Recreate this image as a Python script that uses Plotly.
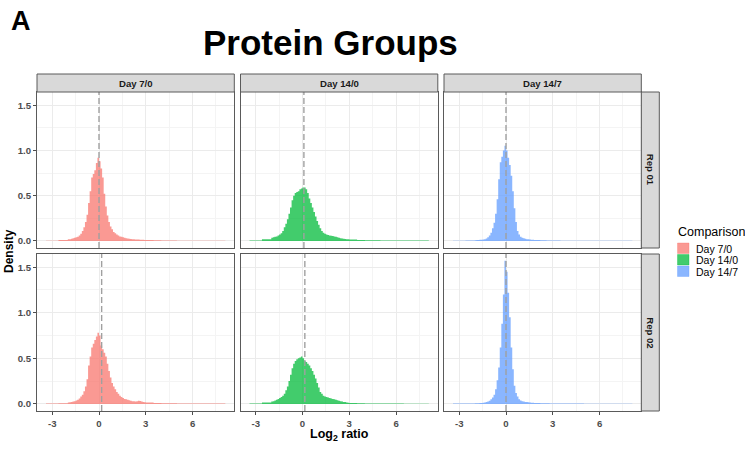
import plotly.graph_objects as go

# ---------------------------------------------------------------------------
# Histogram bins (log2 ratio): two coarse left-tail bins, a fine core grid
# of 0.1-wide bins from -2 to 3, and five coarse right-tail bins.
# ---------------------------------------------------------------------------
left_tail_edges = [-3.4, -2.6]
core_start, core_step, core_bins = -2.0, 0.1, 50
right_tail_edges = [3.5, 4.0, 5.0, 6.5, 8.1]

comparisons = ["Day 7/0", "Day 14/0", "Day 14/7"]
replicates = ["Rep 01", "Rep 02"]

# Density per bin: [2 left-tail] + [50 core] + [5 right-tail]
day7_0_rep01 = [0.003, 0.010,
    0.020, 0.020, 0.025, 0.030, 0.035, 0.040, 0.045, 0.060, 0.080, 0.110,
    0.150, 0.210, 0.290, 0.420, 0.550, 0.700, 0.740, 0.780, 0.860, 0.920,
    0.880, 0.800, 0.700, 0.520, 0.380, 0.280, 0.210, 0.160, 0.130, 0.100,
    0.085, 0.070, 0.060, 0.050, 0.045, 0.040, 0.035, 0.030, 0.028, 0.025,
    0.022, 0.020, 0.018, 0.017, 0.015, 0.015, 0.014, 0.013, 0.012, 0.011,
    0.010, 0.007, 0.005, 0.003, 0.002]
day14_0_rep01 = [0.005, 0.020,
    0.035, 0.040, 0.045, 0.050, 0.060, 0.070, 0.085, 0.110, 0.150, 0.190,
    0.240, 0.300, 0.370, 0.450, 0.500, 0.530, 0.540, 0.550, 0.570, 0.580,
    0.590, 0.590, 0.570, 0.530, 0.470, 0.420, 0.370, 0.320, 0.270, 0.220,
    0.180, 0.140, 0.110, 0.090, 0.080, 0.070, 0.065, 0.060, 0.058, 0.055,
    0.050, 0.045, 0.040, 0.035, 0.030, 0.028, 0.025, 0.022, 0.020, 0.018,
    0.015, 0.010, 0.008, 0.005, 0.004]
day14_7_rep01 = [0.003, 0.006,
    0.008, 0.010, 0.010, 0.012, 0.014, 0.017, 0.020, 0.028, 0.040, 0.060,
    0.090, 0.140, 0.200, 0.300, 0.460, 0.680, 0.870, 0.930, 1.000, 1.050,
    1.000, 0.920, 0.840, 0.720, 0.550, 0.360, 0.210, 0.110, 0.070, 0.045,
    0.035, 0.030, 0.025, 0.020, 0.018, 0.015, 0.013, 0.012, 0.011, 0.010,
    0.009, 0.009, 0.008, 0.008, 0.007, 0.007, 0.006, 0.006, 0.005, 0.005,
    0.004, 0.003, 0.003, 0.002, 0.002]
day7_0_rep02 = [0.003, 0.008,
    0.015, 0.018, 0.020, 0.025, 0.030, 0.038, 0.045, 0.060, 0.080, 0.100,
    0.140, 0.190, 0.270, 0.420, 0.520, 0.620, 0.660, 0.700, 0.740, 0.780,
    0.750, 0.640, 0.600, 0.560, 0.520, 0.440, 0.360, 0.290, 0.230, 0.190,
    0.160, 0.130, 0.110, 0.090, 0.075, 0.065, 0.055, 0.050, 0.045, 0.040,
    0.035, 0.030, 0.028, 0.026, 0.030, 0.035, 0.033, 0.025, 0.020, 0.018,
    0.014, 0.010, 0.007, 0.004, 0.003]
day14_0_rep02 = [0.004, 0.015,
    0.025, 0.030, 0.038, 0.045, 0.055, 0.065, 0.077, 0.090, 0.110, 0.150,
    0.190, 0.250, 0.320, 0.390, 0.440, 0.470, 0.490, 0.500, 0.510, 0.520,
    0.500, 0.470, 0.460, 0.440, 0.420, 0.390, 0.360, 0.320, 0.280, 0.230,
    0.180, 0.130, 0.110, 0.090, 0.080, 0.075, 0.070, 0.065, 0.060, 0.055,
    0.050, 0.045, 0.040, 0.035, 0.030, 0.025, 0.022, 0.020, 0.015, 0.012,
    0.010, 0.007, 0.005, 0.003, 0.002]
day14_7_rep02 = [0.003, 0.005,
    0.006, 0.007, 0.008, 0.009, 0.011, 0.013, 0.016, 0.020, 0.026, 0.035,
    0.050, 0.070, 0.100, 0.160, 0.260, 0.400, 0.620, 0.880, 1.200, 1.570,
    1.450, 1.220, 0.950, 0.620, 0.380, 0.200, 0.120, 0.080, 0.050, 0.038,
    0.030, 0.025, 0.022, 0.020, 0.018, 0.015, 0.013, 0.012, 0.011, 0.010,
    0.009, 0.009, 0.008, 0.008, 0.007, 0.007, 0.006, 0.006, 0.005, 0.005,
    0.004, 0.003, 0.003, 0.002, 0.002]

densities = [
    [day7_0_rep01, day14_0_rep01, day14_7_rep01],
    [day7_0_rep02, day14_0_rep02, day14_7_rep02],
]

# Median log2 ratio per panel (dashed reference line)
medians = [
    [0.00, 0.09, 0.00],
    [0.17, 0.15, 0.00],
]

x_ticks = [-3, 0, 3, 6]
x_tick_labels = ["-3", "0", "3", "6"]
y_ticks = [0.0, 0.5, 1.0, 1.5]
y_tick_labels = ["0.0", "0.5", "1.0", "1.5"]

# ---------------------------------------------------------------------------
# Styling
# ---------------------------------------------------------------------------
W, H = 745, 449
FONT = "Liberation Sans, Arial, Helvetica, sans-serif"
base_colors = ["248,118,109", "0,186,56", "97,156,255"]
FILL_ALPHA = 0.74

edges = (left_tail_edges
         + [round(core_start + core_step * i, 2) for i in range(core_bins + 1)]
         + right_tail_edges)

X_RANGE = [-3.975, 8.675]
Y_RANGE = [-0.078, 1.645]

# panel geometry in pixels
col_left = [37.0, 240.5, 444.0]
panel_w = 197.3
row_top = [92.0, 254.0]
row_bot = [248.0, 411.0]
strip_top_h = 18.0
strip_right_w = 18.0
BORDER = "#5a5a5a"


def fx(px):
    return px / W


def fy(py):
    return 1 - py / H


fig = go.Figure()
layout_axes = {}
shapes = []
annotations = []

for r in range(2):
    for c in range(3):
        idx = r * 3 + c + 1
        xa = "x" if idx == 1 else f"x{idx}"
        ya = "y" if idx == 1 else f"y{idx}"
        dens = densities[r][c]
        xs = edges[:]
        ys = dens + [dens[-1]]
        rgb = base_colors[c]
        fig.add_trace(go.Scatter(
            x=xs, y=ys, mode="lines", line_shape="hv",
            line=dict(color=f"rgba({rgb},{FILL_ALPHA})", width=0),
            fill="tozeroy", fillcolor=f"rgba({rgb},{FILL_ALPHA})",
            xaxis=xa, yaxis=ya, showlegend=False, hoverinfo="skip",
        ))

        x0 = col_left[c]
        x1 = x0 + panel_w
        y0, y1 = row_top[r], row_bot[r]
        show_x = (r == 1)
        show_y = (c == 0)
        axis_common = dict(
            showline=True, mirror=True, linecolor=BORDER, linewidth=1,
            showgrid=True, gridcolor="#ebebeb", gridwidth=1,
            zeroline=False, ticklen=3, tickwidth=1,
            tickcolor="#4d4d4d",
            tickfont=dict(family=FONT, size=9.6, color="#4d4d4d", weight="bold"),
        )
        layout_axes[f"xaxis{'' if idx == 1 else idx}"] = dict(
            axis_common,
            domain=[fx(x0), fx(x1)], anchor=ya, range=X_RANGE,
            tickvals=x_ticks, ticktext=x_tick_labels,
            showticklabels=show_x, ticks="outside" if show_x else "",
            minor=dict(showgrid=True, gridcolor="#f4f4f4", gridwidth=0.6,
                       tickvals=[-1.5, 1.5, 4.5, 7.5]),
        )
        layout_axes[f"yaxis{'' if idx == 1 else idx}"] = dict(
            axis_common,
            domain=[fy(y1), fy(y0)], anchor=xa, range=Y_RANGE,
            tickvals=y_ticks, ticktext=y_tick_labels,
            showticklabels=show_y, ticks="outside" if show_y else "",
            minor=dict(showgrid=True, gridcolor="#f4f4f4", gridwidth=0.6,
                       tickvals=[0.25, 0.75, 1.25]),
        )

        # dashed median line
        shapes.append(dict(
            type="line", xref=xa, yref=f"{ya} domain",
            x0=medians[r][c], x1=medians[r][c], y0=0, y1=1,
            line=dict(color="#a0a0a0", width=1.4, dash="6px,3px"),
            layer="above",
        ))

# top strips
for c, label in enumerate(comparisons):
    x0 = col_left[c]
    x1 = x0 + panel_w
    shapes.append(dict(
        type="rect", xref="paper", yref="paper",
        x0=fx(x0), x1=fx(x1), y0=fy(row_top[0]), y1=fy(row_top[0] - strip_top_h),
        fillcolor="#d9d9d9", line=dict(color=BORDER, width=1),
    ))
    annotations.append(dict(
        text=f"<b>{label}</b>", xref="paper", yref="paper",
        x=fx((x0 + x1) / 2), y=fy(row_top[0] - strip_top_h / 2),
        xanchor="center", yanchor="middle", showarrow=False,
        font=dict(family=FONT, size=9.6, color="#1a1a1a"),
    ))

# right strips
sx0 = col_left[2] + panel_w
for r, label in enumerate(replicates):
    shapes.append(dict(
        type="rect", xref="paper", yref="paper",
        x0=fx(sx0), x1=fx(sx0 + strip_right_w), y0=fy(row_bot[r]), y1=fy(row_top[r]),
        fillcolor="#d9d9d9", line=dict(color=BORDER, width=1),
    ))
    annotations.append(dict(
        text=f"<b>{label}</b>", xref="paper", yref="paper",
        x=fx(sx0 + strip_right_w / 2), y=fy((row_top[r] + row_bot[r]) / 2),
        xanchor="center", yanchor="middle", showarrow=False, textangle=90,
        font=dict(family=FONT, size=9.6, color="#1a1a1a"),
    ))

# titles and axis labels
annotations += [
    dict(text="<b>A</b>", xref="paper", yref="paper", x=fx(9), y=fy(21),
         xanchor="left", yanchor="middle", showarrow=False,
         font=dict(family=FONT, size=27, color="#000000")),
    dict(text="<b>Protein Groups</b>", xref="paper", yref="paper",
         x=fx(330), y=fy(42), xanchor="center", yanchor="middle",
         showarrow=False, font=dict(family=FONT, size=35, color="#000000")),
    dict(text="<b>Density</b>", xref="paper", yref="paper",
         x=fx(9), y=fy(251), xanchor="center", yanchor="middle",
         textangle=-90, showarrow=False,
         font=dict(family=FONT, size=12, color="#000000")),
    dict(text="<b>Log<sub>2</sub> ratio</b>", xref="paper", yref="paper",
         x=fx(339.5), y=fy(434.5), xanchor="center", yanchor="middle",
         showarrow=False, borderpad=0,
         font=dict(family=FONT, size=12.5, color="#000000")),
    dict(text="Comparison", xref="paper", yref="paper",
         x=fx(676), y=fy(232), xanchor="left", yanchor="middle",
         showarrow=False, font=dict(family=FONT, size=12.5, color="#000000")),
]

# legend keys
key_tops = [243.0, 254.5, 266.0]
for c, label in enumerate(comparisons):
    rgb = base_colors[c]
    kt = key_tops[c]
    shapes.append(dict(
        type="rect", xref="paper", yref="paper",
        x0=fx(677.5), x1=fx(689.0), y0=fy(kt + 10.5), y1=fy(kt),
        fillcolor=f"rgba({rgb},{FILL_ALPHA})",
        line=dict(color=f"rgba({rgb},0.35)", width=1),
    ))
    annotations.append(dict(
        text=label, xref="paper", yref="paper",
        x=fx(694), y=fy(kt + 5.5), xanchor="left", yanchor="middle",
        showarrow=False, font=dict(family=FONT, size=10.5, color="#000000"),
    ))

fig.update_layout(
    width=W, height=H,
    margin=dict(l=0, r=0, t=0, b=0),
    paper_bgcolor="white", plot_bgcolor="white",
    showlegend=False,
    shapes=shapes, annotations=annotations,
    font=dict(family=FONT),
    **layout_axes,
)

fig.write_html("out.html")
